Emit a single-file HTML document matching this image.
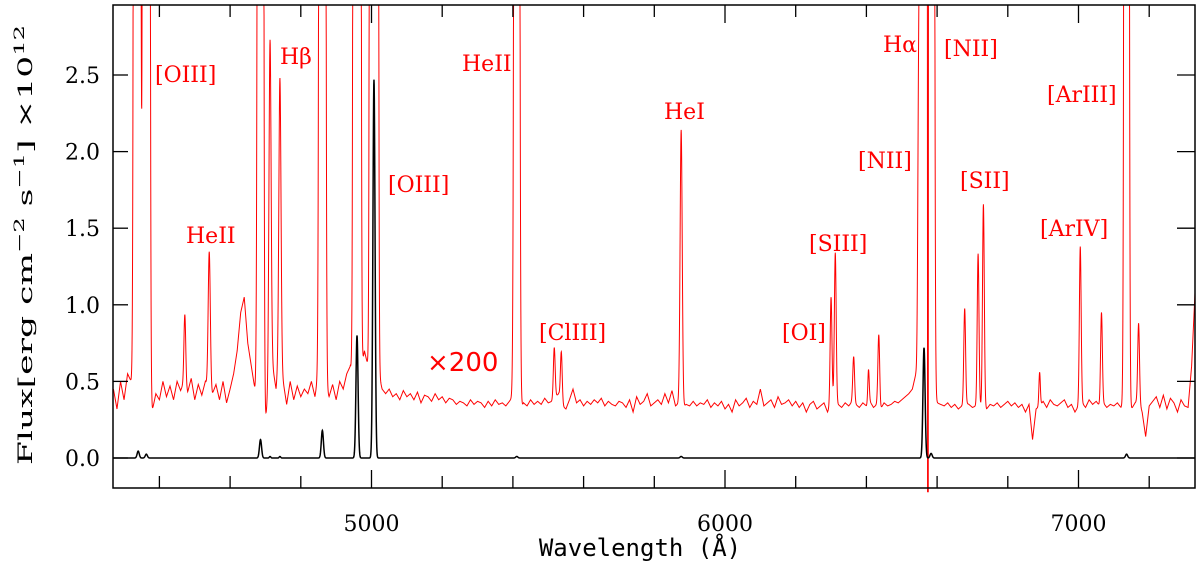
<!DOCTYPE html>
<html><head><meta charset="utf-8"><style>
html,body{margin:0;padding:0;background:#fff;overflow:hidden;width:1200px;height:572px;}
svg{display:block;}
.lab{font-family:"DejaVu Serif","Liberation Serif",serif;font-size:22px;fill:#ff0000;}
.tick{font-family:"DejaVu Serif","Liberation Serif",serif;font-size:22px;fill:#000;}
</style></head><body>
<svg id="chart" width="1200" height="572" viewBox="0 0 1200 572">
<defs><clipPath id="pc"><rect x="113" y="5" width="1082" height="490"/></clipPath></defs>
<g id="series" clip-path="url(#pc)"></g>
<rect x="113" y="5" width="1082" height="483" fill="none" stroke="#000" stroke-width="1.5"/>
<g id="axes"></g>
<text x="640" y="556" text-anchor="middle" font-family="DejaVu Sans Mono,Liberation Mono,monospace" font-size="24">Wavelength (Å)</text>
<text transform="translate(32,245) rotate(-90)" text-anchor="middle" font-family="DejaVu Serif,Liberation Serif,serif" font-size="20" textLength="440" lengthAdjust="spacingAndGlyphs">Flux[erg cm<tspan dy="-8" font-size="14">−2</tspan><tspan dy="8"> s</tspan><tspan dy="-8" font-size="14">−1</tspan><tspan dy="8">] ×10</tspan><tspan dy="-8" font-size="14">12</tspan></text>
<text class="lab" x="155" y="82">[OIII]</text>
<text class="lab" x="280" y="64">Hβ</text>
<text class="lab" x="186" y="243">HeII</text>
<text class="lab" x="388" y="192">[OIII]</text>
<text class="lab" x="462" y="71">HeII</text>
<text x="427" y="371" font-family="DejaVu Sans,Liberation Sans,sans-serif" font-size="26" fill="#ff0000">×200</text>
<text class="lab" x="539" y="340">[ClIII]</text>
<text class="lab" x="664" y="119">HeI</text>
<text class="lab" x="782" y="340">[OI]</text>
<text class="lab" x="809" y="251">[SIII]</text>
<text class="lab" x="858" y="168">[NII]</text>
<text class="lab" x="883" y="52">Hα</text>
<text class="lab" x="944" y="56">[NII]</text>
<text class="lab" x="960" y="188">[SII]</text>
<text class="lab" x="1047" y="102">[ArIII]</text>
<text class="lab" x="1040" y="236">[ArIV]</text>
</svg>
<script>
const contStart = 4270;
const contStep = 10;
const redContinuum = [
0.45,0.32,0.5,0.38,0.55,0.5,
0.5,0.5,0.5,0.5,0.35,0.31,
0.42,0.38,0.5,0.4,0.47,0.38,0.5,0.44,
0.5,0.43,0.52,0.38,0.48,0.41,0.5,
0.45,0.42,0.48,0.38,0.5,0.36,0.45,
0.55,0.7,0.95,1.05,0.75,
0.6,0.45,0.4,
0.3,0.22,0.5,0.6,0.45,0.7,0.5,
0.35,0.5,0.38,0.47,0.4,0.45,0.42,0.5,0.4,0.55,
0.45,0.45,
0.4,0.48,0.38,0.5,0.45,0.55,0.6,0.5,
0.6,0.55,0.7,0.6,0.6,
0.6,0.55,0.45,0.42,0.45,0.4,0.42,0.38,0.44,0.4,
0.42,0.38,0.43,0.36,0.41,0.4,0.37,0.42,0.38,0.4,
0.36,0.39,0.38,0.35,0.37,0.36,0.34,0.38,0.35,0.37,
0.36,0.33,0.37,0.34,0.38,0.35,0.36,0.34,0.37,0.4,
0.38,0.3,0.36,0.34,0.38,0.35,0.37,0.35,0.39,0.36,
0.37,0.4,0.42,0.34,0.32,0.38,0.45,0.36,0.38,0.34,
0.37,0.35,0.38,0.36,0.39,0.34,0.37,0.35,0.34,0.37,
0.36,0.33,0.38,0.3,0.4,0.35,0.37,0.42,0.34,0.36,
0.38,0.35,0.42,0.36,0.44,0.34,0.36,0.33,0.35,0.34,
0.37,0.34,0.36,0.35,0.38,0.33,0.36,0.34,0.37,0.32,
0.35,0.3,0.38,0.34,0.36,0.39,0.33,0.37,0.35,0.45,
0.34,0.36,0.38,0.33,0.4,0.35,0.36,0.38,0.34,0.37,
0.33,0.36,0.3,0.35,0.37,0.32,0.34,0.36,0.3,0.35,
0.4,0.35,0.33,0.36,0.34,0.37,0.35,0.33,0.36,0.34,
0.37,0.33,0.35,0.32,0.36,0.34,0.35,0.37,0.36,0.38,
0.4,0.42,0.45,0.55,0.6,0.5,0.45,0.4,0.38,0.36,
0.35,0.34,0.36,0.33,0.35,0.32,0.34,0.36,0.35,0.33,
0.34,0.33,0.36,0.32,0.35,0.34,0.36,0.33,0.35,0.37,
0.34,0.36,0.33,0.35,0.3,0.35,0.12,0.32,0.34,0.37,
0.33,0.38,0.35,0.34,0.36,0.38,0.33,0.35,0.3,0.34,
0.36,0.33,0.38,0.35,0.37,0.34,0.36,0.33,0.35,0.34,
0.36,0.33,0.35,0.3,0.32,0.36,0.38,0.3,0.14,0.34,
0.37,0.4,0.33,0.41,0.32,0.39,0.36,0.3,0.38,0.34,
0.33,0.6,1.1];
const redLineWave = [4337,4363,4472,4541,4686,4713,4741,4861,4959,5007,5411,5517,5537,5876,6300,6312,6364,6406,6435,6548,6563,6574,6583,6678,6716,6731,6890,7005,7065,7136,7170];
const redLinePeak = [150,200,0.45,0.9,60,2.2,1.8,100,300,900,40,0.33,0.33,1.8,0.7,0.95,0.3,0.22,0.47,1.9,400,-100,100,0.62,1.0,1.3,0.22,1.03,0.6,50,0.5];
const redLineSigma = [4,4,2.5,3,4,3,3,4,4,4,4,2.5,2.5,3,2.5,2.5,2.5,2,2.5,2.5,4,0.7,4,2.5,2.5,2.5,2,2.5,2.5,3.5,2.5];
const blackLineWave = [4340,4363,4686,4713,4741,4861,4959,5007,5411,5876,6563,6583,7136];
const blackLinePeak = [0.045,0.025,0.12,0.01,0.01,0.18,0.80,2.47,0.01,0.01,0.72,0.03,0.025];
const blackLineSigma = [3,3,3,2,2,3,3,3,3,3,3,3,3];
const xMajorTicks = [5000,6000,7000];
const xMinorTicks = [4400,4600,4800,5200,5400,5600,5800,6200,6400,6600,6800,7200];
const yTicks = [0,0.5,1.0,1.5,2.0,2.5];
const yTickLabels = ["0.0","0.5","1.0","1.5","2.0","2.5"];

const NS="http://www.w3.org/2000/svg";
const xs = l => 371.5 + (l-5000)*0.3535;
const ys = f => 458 - f*153.2;
const wMin = 4270, wMax = 7330;

function cont(l){
  const t=(l-contStart)/contStep; let i=Math.floor(t);
  if(i<0) return redContinuum[0];
  if(i>=redContinuum.length-1) return redContinuum[redContinuum.length-1];
  const f=t-i; return redContinuum[i]*(1-f)+redContinuum[i+1]*f;
}
function lines(l,W,P,S){
  let s=0; for(let k=0;k<W.length;k++){const d=(l-W[k])/S[k]; if(Math.abs(d)<12) s+=P[k]*Math.exp(-0.5*d*d);} return s;
}
function path(fn){
  let d=""; for(let l=wMin;l<=wMax;l+=0.5){ let v=fn(l); v=Math.max(-0.22,Math.min(3.0,v)); d+=(d?"L":"M")+xs(l).toFixed(2)+","+ys(v).toFixed(2);} return d;
}
const g=document.getElementById('series');
const red=document.createElementNS(NS,'path');
red.setAttribute('d',path(l=>cont(l)+lines(l,redLineWave,redLinePeak,redLineSigma)));
red.setAttribute('fill','none');red.setAttribute('stroke','#ff0000');red.setAttribute('stroke-width','1');


g.appendChild(red);
const blk=document.createElementNS(NS,'path');
blk.setAttribute('d',path(l=>lines(l,blackLineWave,blackLinePeak,blackLineSigma)));
blk.setAttribute('fill','none');blk.setAttribute('stroke','#000');blk.setAttribute('stroke-width','1.5');


g.appendChild(blk);

const ax=document.getElementById('axes');
function ln(x1,y1,x2,y2,name){const e=document.createElementNS(NS,'line');e.setAttribute('x1',x1);e.setAttribute('y1',y1);e.setAttribute('x2',x2);e.setAttribute('y2',y2);e.setAttribute('stroke','#000');e.setAttribute('stroke-width','1.3');


ax.appendChild(e);}
xMajorTicks.forEach(t=>{const x=xs(t);ln(x,488,x,470,'x-major-tick');ln(x,5,x,23,'x-major-tick-top');
 const tx=document.createElementNS(NS,'text');tx.setAttribute('x',x);tx.setAttribute('y',531);tx.setAttribute('text-anchor','middle');tx.setAttribute('class','tick');tx.textContent=String(t);
 
 
 ax.appendChild(tx);});
xMinorTicks.forEach(t=>{const x=xs(t);ln(x,488,x,476,'x-minor-tick');ln(x,5,x,17,'x-minor-tick-top');});
yTicks.forEach((t,i)=>{const y=ys(t);ln(113,y,128,y,'y-tick');ln(1195,y,1177,y,'y-tick-right');
 const tx=document.createElementNS(NS,'text');tx.setAttribute('x',100);tx.setAttribute('y',y+8);tx.setAttribute('text-anchor','end');tx.setAttribute('class','tick');tx.textContent=yTickLabels[i];
 
 
 ax.appendChild(tx);});
</script>
</body></html>
